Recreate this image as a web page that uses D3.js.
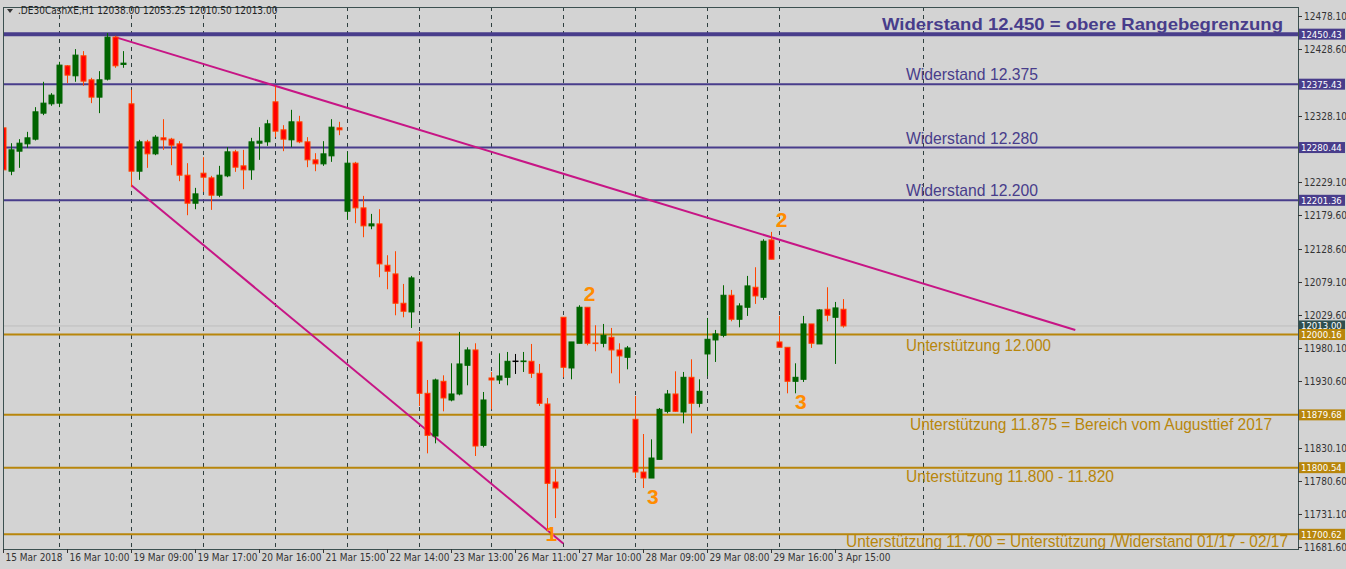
<!DOCTYPE html>
<html><head><meta charset="utf-8">
<script src="https://cdn.jsdelivr.net/npm/d3@7"></script>
<style>body{margin:0;background:#d3d3d3;}svg{display:block;}</style>
</head><body><svg id="c" width="1346" height="569"></svg>
<script>
// OHLC per H1 bar: [open, high, low, close]
const candles = [
[12310,12312,12244,12247],[12245,12287,12239,12277],[12275,12293,12250,12287],[12286,12304,12280,12295],
[12293,12341,12291,12334],[12332,12379,12329,12347],[12346,12362,12343,12359],[12347,12409,12341,12404],
[12403,12404,12377,12389],[12388,12428,12379,12419],[12418,12425,12373,12380],[12382,12385,12347,12356],
[12356,12395,12332,12382],[12383,12452,12381,12446],[12446,12448,12400,12403],[12404,12425,12400,12406],
[12346,12367,12221,12245],[12245,12292,12232,12289],[12289,12292,12250,12271],[12271,12299,12269,12296],
[12295,12323,12277,12292],[12293,12295,12254,12284],[12286,12290,12230,12239],[12239,12257,12179,12197],
[12197,12220,12188,12211],[12242,12266,12214,12236],[12235,12238,12187,12209],[12209,12253,12206,12239],
[12238,12281,12236,12274],[12274,12277,12244,12251],[12253,12277,12218,12247],[12247,12295,12232,12289],
[12287,12311,12262,12290],[12289,12322,12283,12316],[12349,12373,12296,12305],[12307,12314,12275,12293],
[12292,12337,12281,12319],[12319,12328,12287,12289],[12289,12296,12251,12262],[12262,12272,12245,12256],
[12256,12290,12253,12271],[12268,12323,12259,12311],[12310,12319,12299,12307],[12185,12274,12172,12257],
[12257,12259,12167,12190],[12190,12208,12146,12163],[12163,12181,12158,12166],[12166,12188,12086,12106],
[12104,12119,12068,12095],[12091,12125,12029,12047],[12047,12076,12026,12035],[12034,12088,12010,12085],
[11989,12004,11893,11912],[11912,11932,11822,11849],[11848,11934,11837,11932],[11930,11939,11885,11905],
[11902,11957,11900,11911],[11911,12004,11909,11956],[11954,11981,11924,11977],[11977,11987,11818,11833],
[11834,11914,11831,11902],[11935,11944,11888,11932],[11932,11972,11926,11938],[11936,11974,11924,11960],
[11960,11971,11941,11960],[11959,11974,11944,11960],[11960,11986,11935,11942],[11942,11956,11893,11897],
[11896,11905,11708,11777],[11779,11798,11725,11770],[12026,12026,11936,11951],[11950,11989,11933,11989],
[11987,12044,11987,12041],[12041,12041,11984,11987],[11987,12014,11975,11986],[11987,12016,11981,11999],
[11996,12010,11942,11977],[11977,11987,11927,11968],[11966,11983,11948,11980],[11873,11908,11785,11794],
[11794,11851,11770,11785],[11785,11843,11785,11815],[11813,11890,11813,11888],[11885,11917,11882,11911],
[11911,11945,11884,11885],[11884,11944,11867,11936],[11936,11963,11852,11897],[11897,11933,11891,11915],
[11971,12025,11938,11993],[11992,12007,11959,12001],[11999,12074,11996,12059],[12059,12067,12020,12023],
[12023,12047,12011,12043],[12041,12088,12028,12073],[12071,12101,12046,12058],[12056,12143,12052,12140],
[12142,12154,12113,12113],[11989,12028,11981,11981],[11981,11981,11912,11930],[11930,11957,11912,11936],
[11933,12028,11929,12016],[12016,12016,11980,11987],[11986,12038,11986,12037],[12038,12071,12020,12029],
[12026,12049,11956,12040],[12038,12053.25,12010.5,12013]
];
const timeLabels = ["15 Mar 2018","16 Mar 10:00","19 Mar 09:00","19 Mar 17:00","20 Mar 16:00","21 Mar 15:00",
 "22 Mar 14:00","23 Mar 13:00","26 Mar 11:00","27 Mar 10:00","28 Mar 09:00","29 Mar 08:00","29 Mar 16:00","3 Apr 15:00"];
const priceTicks = [12478.10,12428.60,12328.10,12229.10,12179.60,12128.60,12079.10,12029.60,11980.10,11930.60,11830.10,11780.60,11731.10,11681.60];
const resistLevels = [12450.43,12375.43,12280.44,12201.36];
const resistTexts = ["Widerstand 12.450 = obere Rangebegrenzung","Widerstand 12.375","Widerstand 12.280","Widerstand 12.200"];
const supportLevels = [12000.16,11879.68,11800.54,11700.62];
const supportTexts = ["Unterstützung 12.000","Unterstützung 11.875 = Bereich vom Augusttief 2017","Unterstützung 11.800 - 11.820","Unterstützung 11.700 = Unterstützung /Widerstand 01/17 - 02/17"];
const upperTrend = [[14,12446],[134,12007]];
const lowerTrend = [[16,12224],[70,11687]];
const waveMarks = [["2",73.3,12051],["2",97.3,12162],["3",99.7,11889],["3",81.2,11746],["1",68.5,11690]];
const lastPrice = 12013.00;

const svg = d3.select("#c");
const L=3,R=1298,T=7,B=549;
const x = d3.scaleLinear().domain([0,105]).range([3.3,843.3]);
const y = d3.scaleLinear().domain([11681.6,12478.1]).range([547,15.7]);
const blue="#483d8b", gold="#b8860b", mag="#c71585";
const FF="Liberation Sans, Arial";

svg.append("defs").append("clipPath").attr("id","pc").append("rect").attr("x",L).attr("y",T).attr("width",R-L).attr("height",B-T);
const g = svg.append("g").attr("clip-path","url(#pc)");

[7,16,25,34,43,52,61,70,79,88,97,115].forEach(k=>{
  g.append("line").attr("x1",Math.round(x(k))+0.5).attr("x2",Math.round(x(k))+0.5).attr("y1",T).attr("y2",B)
   .attr("stroke","#2f3f3f").attr("stroke-dasharray","4,4").attr("stroke-width",1);
});
g.append("line").attr("x1",L).attr("x2",R).attr("y1",y(lastPrice)).attr("y2",y(lastPrice)).attr("stroke","#bdbdbd");

resistLevels.forEach((v,i)=>g.append("line").attr("x1",L).attr("x2",R).attr("y1",y(v)).attr("y2",y(v)).attr("stroke",blue).attr("stroke-width",i==0?4:2));
supportLevels.forEach(v=>g.append("line").attr("x1",L).attr("x2",R).attr("y1",y(v)).attr("y2",y(v)).attr("stroke",gold).attr("stroke-width",2));

[upperTrend,lowerTrend].forEach(t=>g.append("line").attr("x1",x(t[0][0])).attr("y1",y(t[0][1])).attr("x2",x(t[1][0])).attr("y2",y(t[1][1])).attr("stroke",mag).attr("stroke-width",2));

candles.forEach((c,i)=>{
  const [o,h,l,cl]=c; const cx=Math.round(x(i))+0.5;
  const up=cl>o, flat=cl===o;
  const wc = flat?"#000":(up?"#006400":"#ff4500");
  g.append("line").attr("x1",cx).attr("x2",cx).attr("y1",y(h)).attr("y2",y(l)).attr("stroke",wc).attr("stroke-width",1);
  const top=y(Math.max(o,cl)), bot=y(Math.min(o,cl));
  if(bot-top<1.5){
    g.append("line").attr("x1",cx-3).attr("x2",cx+3).attr("y1",top).attr("y2",top).attr("stroke",wc).attr("stroke-width",Math.max(1.5,bot-top+1));
  } else {
    g.append("rect").attr("x",cx-2.5).attr("y",top).attr("width",5).attr("height",bot-top)
     .attr("fill",up?"#006400":"#ff0000").attr("stroke",up?"#006400":"#ff4500").attr("stroke-width",1);
  }
});

waveMarks.forEach(m=>g.append("text").attr("x",x(m[1])).attr("y",y(m[2])).attr("text-anchor","middle")
  .attr("font-family",FF).attr("font-weight","bold").attr("font-size",21).attr("fill","#ff8c00").text(m[0]));

const rtPos=[[882,401],[906,132],[906,132],[906,132]];
resistLevels.forEach((v,i)=>g.append("text").attr("x",rtPos[i][0]).attr("y",y(v)-4)
  .attr("font-family",FF).attr("font-size",17).attr("font-weight",i==0?"bold":"normal")
  .attr("textLength",rtPos[i][1]).attr("lengthAdjust","spacingAndGlyphs")
  .attr("fill",blue).text(resistTexts[i]));
const stPos=[[906,145,16],[910,362,15],[906,208,14],[846,442,13]];
supportLevels.forEach((v,i)=>g.append("text").attr("x",stPos[i][0]).attr("y",y(v)+stPos[i][2])
  .attr("font-family",FF).attr("font-size",17).attr("textLength",stPos[i][1]).attr("lengthAdjust","spacingAndGlyphs")
  .attr("fill",gold).text(supportTexts[i]));

svg.append("rect").attr("x",L+0.5).attr("y",T+0.5).attr("width",R-L).attr("height",B-T).attr("fill","none").attr("stroke","#3c5050");

const AF="DejaVu Sans Condensed, DejaVu Sans";
const ax = svg.append("g").attr("font-family",AF).attr("font-size",10).attr("fill","#333");
priceTicks.forEach(v=>{
  ax.append("line").attr("x1",R).attr("x2",R+4).attr("y1",Math.round(y(v))+0.5).attr("y2",Math.round(y(v))+0.5).attr("stroke","#333");
  ax.append("text").attr("x",R+6).attr("y",y(v)+4).text(v.toFixed(2));
});
function marker(v,col){
  const yy=y(v);
  svg.append("rect").attr("x",R+1).attr("y",yy-5.5).attr("width",46).attr("height",11).attr("fill",col);
  svg.append("text").attr("x",R+3).attr("y",yy+3.5).attr("font-family",AF).attr("font-size",9.5).attr("fill","#fff").text(v.toFixed(2));
}
resistLevels.forEach(v=>marker(v,blue));
marker(lastPrice,"#2f4f4f");
supportLevels.forEach(v=>marker(v,gold));

timeLabels.forEach((t,j)=>{
  const xx=Math.round(x(j*8))+0.5;
  svg.append("line").attr("x1",xx).attr("x2",xx).attr("y1",B).attr("y2",B+4).attr("stroke","#333");
  svg.append("text").attr("x",xx+2).attr("y",B+12).attr("font-family",AF).attr("font-size",10).attr("fill","#333").text(t);
});

svg.append("path").attr("d","M7,9 L13,9 L10,13 Z").attr("fill","#333");
svg.append("text").attr("x",18).attr("y",14).attr("font-family",AF).attr("font-size",10).attr("fill","#222")
  .text(".DE30CashXE,H1  12038.00 12053.25 12010.50 12013.00");
</script></body></html>
